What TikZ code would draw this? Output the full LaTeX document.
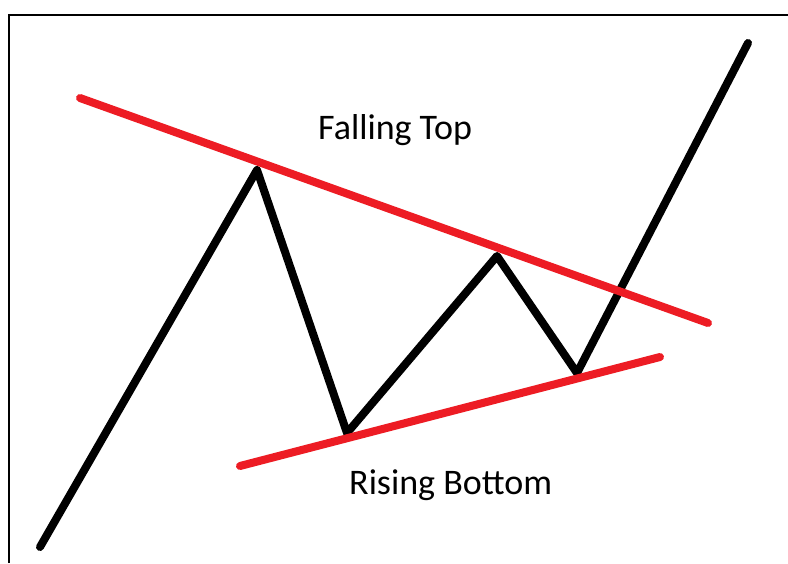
\documentclass[tikz,border=0pt]{standalone}
\usepackage{fontspec}
\setmainfont{Carlito}
\definecolor{paintred}{RGB}{237,28,36}
\tikzset{
  price/.style={line width=8pt, black, line cap=round, line join=round},
  trend/.style={line width=8pt, paintred, line cap=round},
  frameline/.style={line width=2.5pt, black},
  lbl/.style={inner sep=0pt, anchor=base west, font=\fontsize{36}{43}\selectfont}
}
\begin{document}
\begin{tikzpicture}[x=1pt, y=-1pt]
\useasboundingbox (0,0) rectangle (788,563);
\fill[white] (0,0) rectangle (788,563);
% frame
\coordinate (fb) at (9,563);
\coordinate (fc) at (9,15);
\coordinate (fr) at (788,15);
\draw[frameline] (fb) -- (fc) -- (fr);
% price path
\coordinate (p0) at (40,547);
\coordinate (p1) at (257,170);
\coordinate (p2) at (347,433);
\coordinate (p3) at (497,256);
\coordinate (p4) at (577,373);
\coordinate (p5) at (748,43);
\draw[price] (p0) -- (p1) -- (p2) -- (p3) -- (p4) -- (p5);
% trend lines
\coordinate (ta) at (80,98);
\coordinate (tb) at (708,323);
\coordinate (ba) at (240,466);
\coordinate (bb) at (660,357);
\draw[trend] (ta) -- (tb);
\draw[trend] (ba) -- (bb);
% labels
\node[lbl] (falling) at (318,139) {Falling Top};
\node[lbl] (rising) at (349,494) {Rising Bottom};
\end{tikzpicture}
\end{document}
